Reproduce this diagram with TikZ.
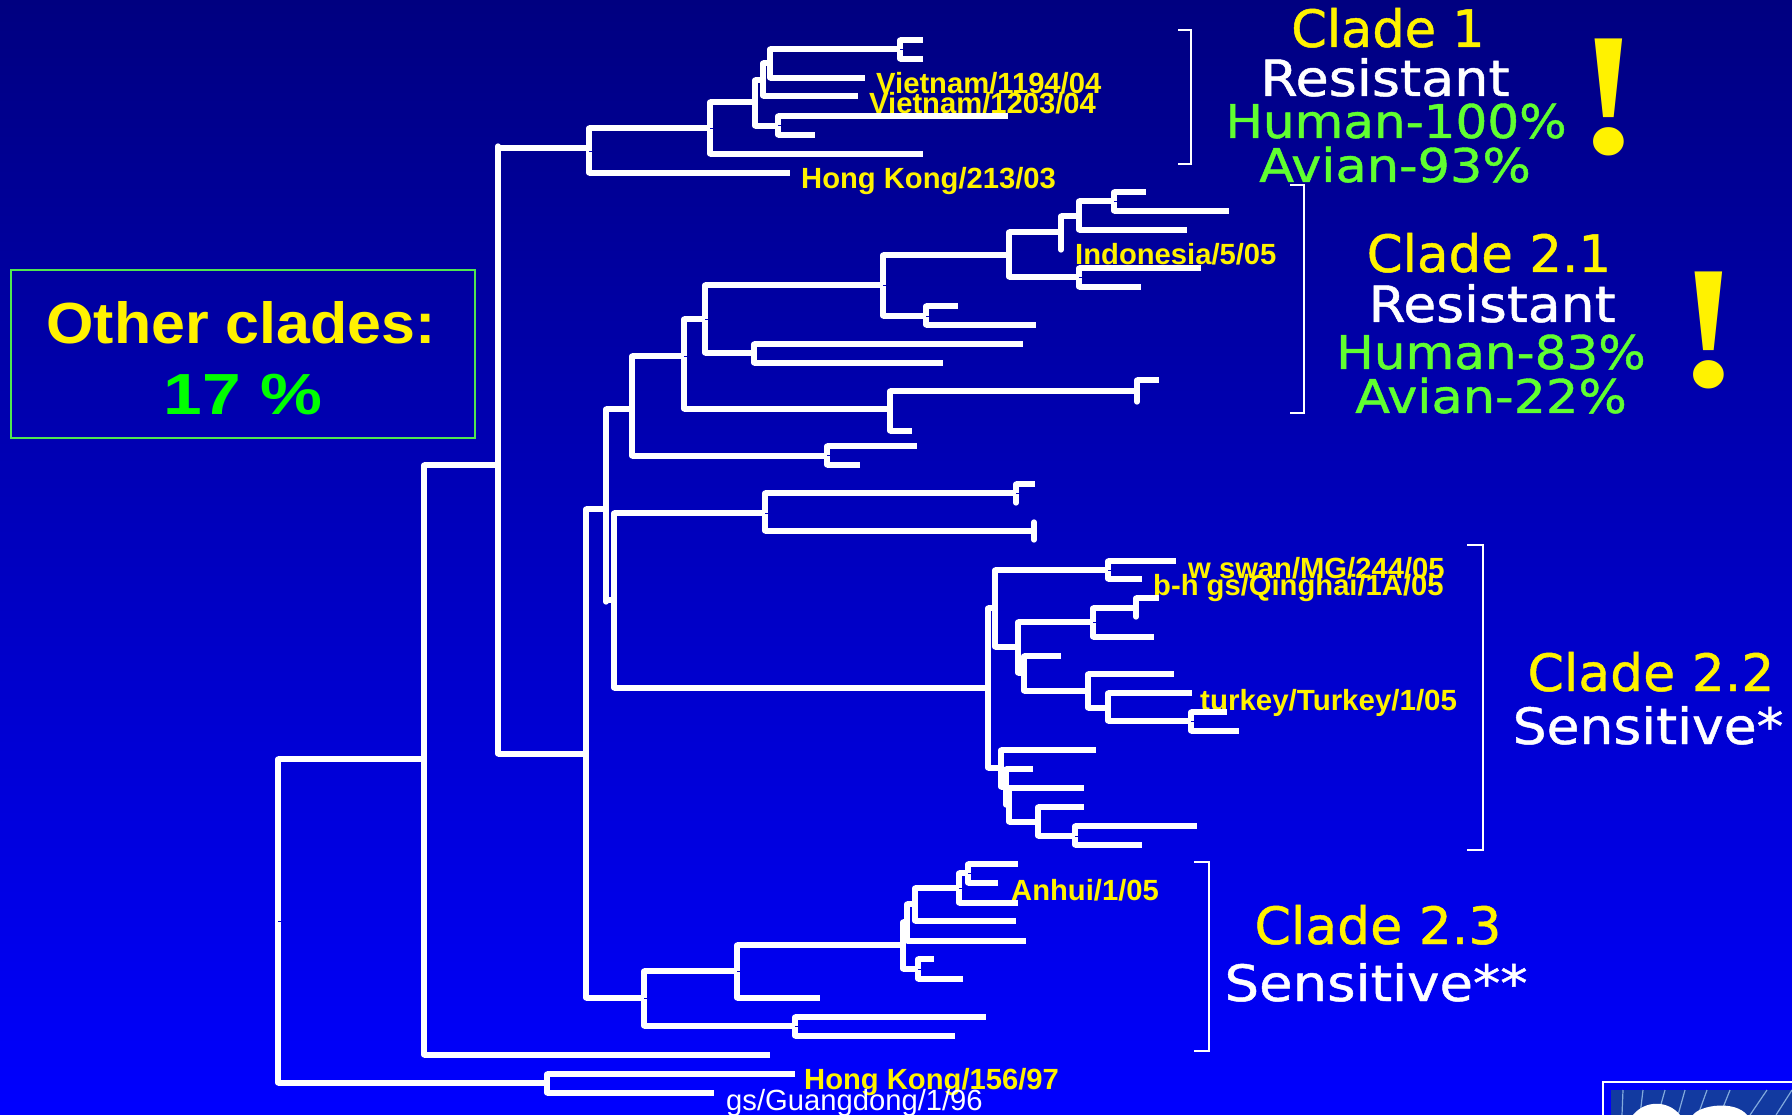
\documentclass[tikz,border=0pt]{standalone}
\usepackage{graphicx}
\usepackage{fontspec}
\setmainfont{Liberation Sans}
\newfontfamily\cladefont{DejaVu Sans}[BoldFont=DejaVu Sans,BoldFeatures={FakeBold=0.9}]
\newfontfamily\bangfont{Liberation Serif}
\definecolor{navytop}{RGB}{0,0,128}
\definecolor{bluebottom}{RGB}{0,0,255}
\definecolor{cladegreen}{RGB}{96,255,48}
\definecolor{percentgreen}{RGB}{0,255,0}
\definecolor{boxgreen}{RGB}{80,230,80}
\definecolor{logoblue}{RGB}{18,58,160}
\definecolor{logoline}{RGB}{130,170,220}
\tikzset{
  branch/.style={white,line width=5.3pt},
  vbranch/.style={branch,line cap=round},
  nodetick/.style={blue!75!black,line width=0.8pt},
  bracket/.style={white,line width=1.4pt},
  taxon/.style={anchor=base west,inner sep=0pt,text=yellow,font=\bfseries\fontsize{29.2}{30}\selectfont},
  clade/.style={anchor=base,inner sep=0pt,font=\cladefont\bfseries\fontsize{50}{50}\selectfont},
  bang/.style={anchor=base,inner sep=0pt,text=yellow,font=\bangfont\bfseries\fontsize{175}{175}\selectfont}
}
\begin{document}
\begin{tikzpicture}[x=1pt,y=-1pt]
  \useasboundingbox (0,0) rectangle (1792,1115);
  \shade[top color=navytop,bottom color=bluebottom] (0,0) rectangle (1792,1115);

  % strain labels go under the branches
  \node[taxon] (vn1194) at (876,94) {Vietnam/1194/04};
  \node[taxon] (vn1203) at (869,114) {Vietnam/1203/04};
  \node[taxon] (hk213) at (801,189) {Hong Kong/213/03};
  \node[taxon] (indo) at (1075,265) {Indonesia/5/05};
  \node[taxon] (swan) at (1188,578) {w swan/MG/244/05};
  \node[taxon] (qinghai) at (1153,595) {b-h gs/Qinghai/1A/05};
  \node[taxon] (turkey) at (1200,710) {\scalebox{1.01}[1]{turkey/Turkey/1/05}};
  \node[taxon] (anhui) at (1011,900) {Anhui/1/05};
  \node[taxon] (hk156) at (804,1089) {Hong Kong/156/97};
  \node[taxon,text=white,font=\fontsize{29.2}{30}\selectfont] (gd) at (726,1110) {gs/Guangdong/1/96};

  % tree: vertical bars
  \foreach \x/\ya/\yb in {
    278/759/1083, 424/465/1055, 498/146/754, 589/128/173, 710/102/154,
    755/80/126, 778/116/135, 763/63/96, 770/49/78, 900/40/59,
    586/509/998, 606/409/602, 632/356/456, 827/446/465, 684/319/409,
    890/391/431, 1137/380/402, 705/285/353, 754/344/363, 883/255/316,
    926/306/325, 1009/232/277, 1079/268/287, 1061/216/250, 1079/201/230,
    1114/192/211, 614/513/688, 765/493/531, 1016/484/503, 1034/522/540,
    988/608/768, 995/570/647, 1108/561/579, 1018/622/673, 1093/608/637,
    1136/598/617, 1024/656/691, 1088/674/708, 1108/693/721, 1191/712/731,
    1001/750/787, 1006/769/805, 1009/788/822, 1038/807/836, 1075/826/845,
    644/971/1026, 737/945/998, 795/1017/1036, 903/922/969, 918/959/979,
    907/904/941, 915/888/921, 959/873/903, 968/864/883, 547/1074/1093}
    \draw[vbranch] (\x,\ya) -- (\x,\yb);

  % tree: horizontal bars
  \foreach \y/\xa/\xb in {
    759/278/424, 1083/278/547, 465/424/498, 1055/424/770, 148/498/589,
    754/498/586, 128/589/710, 173/589/790, 102/710/755, 154/710/923,
    80/755/763, 126/755/778, 116/778/1008, 135/778/815, 63/763/770,
    96/763/858, 49/770/900, 78/770/865, 40/900/923, 59/900/923,
    509/586/606, 409/606/632, 600/606/614, 356/632/684, 456/632/827,
    446/827/917, 465/827/860, 319/684/705, 409/684/890, 431/890/912,
    380/1137/1159, 391/890/1137, 285/705/883, 353/705/754, 344/754/1023,
    363/754/943, 255/883/1009, 316/883/926, 306/926/958, 325/926/1036,
    232/1009/1061, 277/1009/1079, 268/1079/1201, 287/1079/1141, 216/1061/1079,
    201/1079/1114, 230/1079/1187, 192/1114/1146, 211/1114/1229, 513/614/765,
    688/614/988, 493/765/1016, 531/765/1034, 484/1016/1035, 608/988/995,
    570/995/1108, 561/1108/1176, 579/1108/1142, 647/995/1018, 622/1018/1093,
    673/1018/1024, 608/1093/1136, 637/1093/1154, 598/1136/1159, 656/1024/1061,
    691/1024/1088, 674/1088/1174, 708/1088/1108, 693/1108/1192, 721/1108/1191,
    712/1191/1227, 731/1191/1239, 768/988/1001, 750/1001/1096, 787/1001/1006,
    769/1006/1033, 805/1006/1009, 788/1009/1084, 822/1009/1038, 807/1038/1084,
    836/1038/1075, 826/1075/1197, 845/1075/1142, 998/586/644, 971/644/737,
    1026/644/795, 945/737/903, 998/737/820, 1017/795/986, 1036/795/955,
    922/903/907, 969/903/918, 959/918/934, 979/918/963, 941/907/1026,
    904/907/915, 921/915/1016, 888/915/959, 903/959/1018, 873/959/968,
    864/968/1018, 883/968/998, 1074/547/795, 1093/547/714}
    \draw[branch] (\xa,\y) -- (\xb,\y);

  % small marks at the forks
  \foreach \x/\y in {
    278/921, 589/151, 710/128, 778/125, 900/49, 827/455, 1079/277, 1114/201,
    883/285, 926/316, 684/356, 705/319, 765/513, 1016/493, 1108/570, 1093/622,
    1191/721, 1075/836, 644/998, 737/971, 795/1026, 918/969, 959/888, 968/873}
    \draw[nodetick] (\x,\y) -- +(2.6,0);

  \foreach \xa/\xb/\ya/\yb in {1178/1191/30/164, 1290/1304/185/413, 1467/1483/545/850, 1194/1209/862/1051}
    \draw[bracket] (\xa,\ya) -| (\xb,\yb) -- (\xa,\yb);

  \draw[boxgreen,line width=1.6pt] (11,270) rectangle (475,438);
  \node[anchor=base,inner sep=0pt,text=yellow,font=\bfseries\fontsize{58}{58}\selectfont] (other) at (241,344) {\scalebox{1.05}[1]{Other clades:}};
  \node[anchor=base,inner sep=0pt,text=percentgreen,font=\bfseries\fontsize{58}{58}\selectfont] (otherpct) at (243,414) {\scalebox{1.2}[1]{17 \%}};

  \node[clade,text=yellow] (c1) at (1388,47) {\scalebox{1.02}[1.03]{Clade 1}};
  \node[clade,text=white] (c1res) at (1385,96) {\scalebox{1.08}[1]{Resistant}};
  \node[clade,text=cladegreen] (c1hum) at (1396,138) {\scalebox{1}[0.93]{Human-100\%}};
  \node[clade,text=cladegreen] (c1avi) at (1395,182) {\scalebox{1.02}[0.93]{Avian-93\%}};
  \node[clade,text=yellow] (c21) at (1489,272) {\scalebox{1.03}[1.03]{Clade 2.1}};
  \node[clade,text=white] (c21res) at (1492,322) {\scalebox{1.07}[1]{Resistant}};
  \node[clade,text=cladegreen] (c21hum) at (1491,369) {\scalebox{1}[0.93]{Human-83\%}};
  \node[clade,text=cladegreen] (c21avi) at (1491,413) {\scalebox{1.02}[0.93]{Avian-22\%}};
  \node[clade,text=yellow] (c22) at (1651,691) {\scalebox{1.04}[1.03]{Clade 2.2}};
  \node[clade,text=white] (c22res) at (1648,744) {\scalebox{1.07}[1]{Sensitive*}};
  \node[clade,text=yellow] (c23) at (1378,944) {\scalebox{1.04}[1.03]{Clade 2.3}};
  \node[clade,text=white] (c23res) at (1376,1001) {\scalebox{1.09}[1]{Sensitive**}};

  \node[bang] (bang1) at (1609,154) {\scalebox{1.08}[1]{!}};
  \node[bang] (bang2) at (1709,387) {\scalebox{1.08}[1]{!}};

  % logo in the corner, cut off by the page
  \draw[white,line width=2pt] (1603,1082) rectangle (1800,1125);
  \fill[logoblue] (1611,1090) rectangle (1792,1115);
  \foreach \xa/\xb in {1623/1622, 1643/1640, 1665/1658, 1685/1678, 1707/1698, 1730/1720, 1767/1750, 1792/1776}
    \draw[logoline,line width=1.2pt] (\xa,1090) -- (\xb,1115);
  \fill[white] (1633,1115) .. controls (1645,1100) and (1668,1100) .. (1680,1115) -- cycle;
  \fill[white] (1693,1115) .. controls (1700,1105) and (1735,1100) .. (1747,1115) -- cycle;
\end{tikzpicture}
\end{document}
